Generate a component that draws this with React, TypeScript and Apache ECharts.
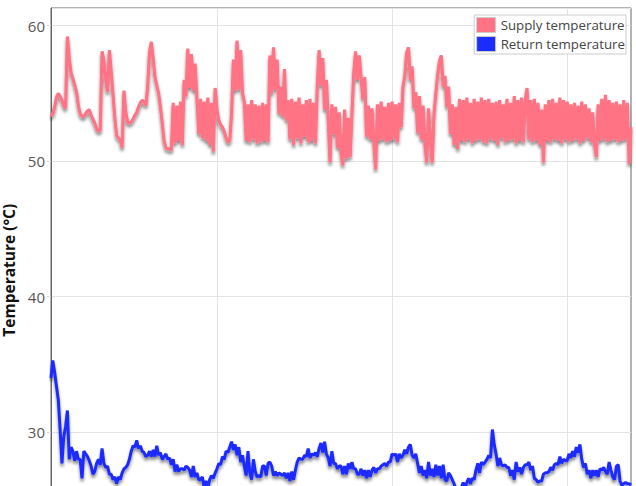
import React, { useEffect, useRef } from "react";
import * as echarts from "echarts";

// time axis in hours, one sample every 15 minutes
const START_HOUR = 1.2;
const STEP_HOURS = 0.25;
const END_HOUR = 80.7;
const dayLines = [24, 48, 72];

const Y_MIN = 22.6;
const Y_MAX = 61.3;

const seriesNames = ["Supply temperature", "Return temperature"];
const seriesColors = ["#ff7384", "#1b2cff"];

const supplyTemp = [
  53.3, 53.5, 54.0, 54.7, 55.0, 54.8, 54.5, 54.1, 53.9, 59.2,
  57.6, 56.5, 56.1, 55.6, 55.1, 54.1, 53.5, 53.3, 53.3, 53.5,
  53.7, 53.8, 53.4, 53.1, 52.8, 52.4, 52.2, 52.3, 58.1, 57.4,
  56.0, 55.1, 58.2, 56.6, 54.9, 53.2, 51.9, 51.7, 51.6, 51.0,
  55.2, 53.6, 52.9, 52.8, 52.9, 53.1, 53.4, 53.6, 54.0, 54.3,
  54.5, 54.4, 54.1, 55.5, 58.0, 58.8, 57.6, 56.2, 55.6, 55.0,
  54.0, 52.8, 51.5, 51.0, 50.9, 50.9, 50.8, 54.3, 51.3, 54.1,
  51.5, 54.4, 51.2, 56.0, 54.8, 58.3, 55.4, 57.9, 55.2, 57.2,
  54.7, 52.0, 54.6, 51.7, 54.4, 51.5, 54.7, 51.2, 54.3, 50.7,
  55.4, 53.8, 53.0, 52.7, 52.5, 52.2, 51.7, 51.4, 51.5, 53.5,
  57.5, 55.2, 58.9, 55.3, 58.2, 55.0, 54.4, 51.5, 54.2, 51.4,
  54.5, 51.6, 54.2, 51.3, 54.1, 51.4, 54.3, 51.5, 54.2, 51.4,
  57.8, 55.0, 58.4, 55.3, 57.5, 53.5, 55.5, 53.3, 56.8, 53.0,
  54.5, 51.6, 54.6, 51.2, 54.4, 51.7, 54.7, 51.3, 54.2, 51.8,
  54.5, 51.4, 54.6, 51.5, 54.3, 51.3, 55.5, 58.2, 55.6, 57.6,
  53.8, 56.0, 53.0, 49.9, 54.2, 52.0, 54.0, 51.0, 53.6, 50.6,
  49.7, 53.8, 50.2, 53.2, 50.3, 53.5, 56.5, 58.1, 56.0, 57.8,
  56.2, 54.6, 56.2, 51.8, 54.1, 51.6, 53.9, 51.4, 49.4, 54.2,
  51.5, 54.4, 51.6, 54.0, 51.4, 54.3, 51.5, 54.4, 51.6, 54.2,
  51.4, 54.3, 52.5, 55.5, 56.3, 58.0, 58.4, 56.0, 57.0, 53.9,
  55.1, 52.1, 54.8, 51.6, 54.1, 51.3, 49.9, 53.9, 51.6, 49.9,
  53.5, 55.0, 56.4, 57.4, 57.8, 55.5, 56.3, 54.0, 55.5, 52.0,
  54.2, 51.2, 54.0, 50.9, 54.6, 51.5, 54.5, 51.4, 54.7, 51.6,
  54.3, 51.3, 54.6, 51.5, 54.4, 51.6, 54.7, 51.4, 54.5, 51.3,
  54.6, 51.6, 54.3, 51.5, 54.4, 51.2, 54.5, 51.7, 54.2, 51.4,
  54.6, 51.5, 54.3, 51.6, 54.8, 51.3, 54.5, 51.5, 54.7, 51.4,
  54.4, 55.4, 51.6, 54.5, 51.4, 54.6, 51.5, 54.3, 51.2, 53.8,
  49.9, 54.2, 51.5, 54.5, 51.4, 54.6, 51.6, 54.3, 51.5, 54.7,
  51.3, 54.5, 51.6, 54.4, 51.4, 54.2, 51.5, 54.3, 51.6, 54.1,
  51.3, 54.4, 51.5, 54.2, 51.7, 53.9, 51.4, 53.6, 51.2, 50.3,
  54.2, 51.5, 54.6, 51.6, 54.9, 51.4, 54.5, 51.5, 54.3, 51.6,
  54.4, 51.4, 54.2, 51.5, 54.5, 51.6, 54.3, 49.8, 52.5,
];

const returnTemp = [
  34.0, 35.3, 34.4, 33.4, 32.4, 30.2, 27.7, 29.7, 30.4, 31.6,
  28.0, 28.9, 28.6, 27.9, 28.6, 28.0, 28.0, 26.6, 28.6, 28.4,
  28.2, 27.9, 27.5, 26.9, 27.1, 27.7, 28.0, 27.6, 28.8, 27.7,
  27.4, 27.5, 26.9, 26.9, 26.5, 26.7, 26.2, 26.7, 26.5, 27.0,
  27.3, 27.4, 27.6, 28.0, 28.6, 29.0, 28.9, 29.4, 28.8, 29.0,
  28.6, 28.5, 28.2, 28.3, 28.6, 28.2, 28.7, 28.2, 29.0, 28.3,
  28.5, 28.0, 28.2, 28.4, 28.0, 28.1, 27.6, 28.0, 27.1, 27.6,
  27.1, 27.3, 27.3, 27.2, 27.5, 27.4, 27.2, 26.7, 27.5, 26.7,
  27.0, 26.5, 26.5, 26.7, 25.9, 26.4, 25.9, 26.5, 26.8, 26.6,
  27.0, 27.3, 27.7, 27.6, 28.2, 28.0, 28.6, 28.5, 28.9, 29.3,
  28.7, 29.1, 28.3, 28.9, 27.8, 28.3, 27.5, 26.8, 28.6, 27.0,
  26.5, 28.0, 27.1, 26.7, 26.8, 26.7, 27.5, 27.5, 26.8, 27.7,
  27.8, 27.5, 26.8, 27.1, 26.8, 27.0, 26.9, 26.8, 27.0, 26.6,
  27.0, 26.4, 27.1, 26.5, 27.2, 27.8, 28.1, 28.0, 28.0, 28.3,
  28.2, 28.8, 28.1, 28.4, 28.3, 28.5, 28.2, 28.8, 29.2, 28.5,
  29.3, 28.4, 28.1, 27.5, 28.6, 27.7, 27.7, 27.3, 27.5, 27.5,
  26.9, 27.5, 26.9, 27.7, 27.3, 27.8, 27.3, 27.3, 26.9, 26.9,
  27.3, 26.8, 27.2, 26.6, 27.2, 26.7, 27.2, 27.4, 27.0, 27.3,
  27.3, 27.5, 27.6, 27.7, 27.5, 27.8, 27.8, 28.4, 28.3, 28.4,
  27.8, 28.4, 28.1, 28.3, 28.7, 28.4, 28.9, 29.1, 28.3, 28.1,
  28.4, 27.7, 27.0, 27.5, 26.8, 27.2, 26.6, 27.8, 26.8, 27.3,
  26.7, 27.6, 26.8, 27.5, 26.6, 27.6, 26.5, 26.4, 27.0, 26.8,
  26.5, 26.2, 25.8, 25.9, 25.6, 25.9, 26.3, 25.9, 26.3, 26.6,
  26.2, 26.6, 26.5, 27.2, 27.7, 27.0, 27.8, 27.6, 27.8, 28.0,
  28.3, 28.1, 30.2, 29.1, 28.4, 27.5, 28.1, 27.6, 27.5, 27.6,
  27.4, 27.4, 26.8, 27.2, 26.5, 27.8, 27.1, 27.4, 26.9, 27.4,
  27.6, 27.6, 27.8, 27.2, 27.5, 26.6, 26.5, 26.3, 26.4, 26.4,
  26.9, 27.0, 27.0, 27.1, 27.4, 27.2, 27.6, 27.7, 27.6, 28.2,
  27.7, 28.0, 27.9, 27.9, 28.4, 28.1, 28.6, 28.2, 28.9, 28.5,
  29.1, 28.0, 27.4, 27.7, 26.9, 27.2, 26.6, 27.2, 26.8, 27.2,
  26.7, 27.3, 27.2, 27.4, 27.1, 26.9, 27.8, 27.2, 26.7, 26.5,
  27.5, 27.6, 26.4, 26.1, 26.2, 26.3, 26.2, 26.2, 26.1,
];

const FONT = "'Open Sans', 'Noto Sans', sans-serif";

export default function App() {
  const ref = useRef<HTMLDivElement>(null);

  useEffect(() => {
    if (!ref.current) return;
    const chart = echarts.init(ref.current, null, { renderer: "svg" });
    const toPairs = (arr: number[]) =>
      arr.map((v, i) => [START_HOUR + i * STEP_HOURS, v]);

    const lineShadow = {
      shadowColor: "rgba(0,0,0,0.45)",
      shadowBlur: 3,
      shadowOffsetX: 0,
      shadowOffsetY: 3,
    };

    chart.setOption({
      animation: false,
      textStyle: { fontFamily: FONT },
      grid: {
        left: 51,
        top: 8,
        width: 580,
        height: 524.5,
        show: true,
        borderColor: "#666",
        borderWidth: 1,
        backgroundColor: "transparent",
        containLabel: false,
        outerBoundsMode: "none",
      },
      legend: {
        data: seriesNames,
        orient: "vertical",
        right: 10,
        top: 15,
        icon: "rect",
        itemWidth: 19,
        itemHeight: 15,
        itemGap: 3,
        padding: [2, 1, 2, 2],
        borderColor: "#ccc",
        borderWidth: 1,
        backgroundColor: "#fff",
        itemStyle: { borderColor: "#ccc", borderWidth: 1, shadowBlur: 0 },
        textStyle: { color: "#444", fontSize: 13.3, fontFamily: FONT },
      },
      xAxis: {
        type: "value",
        min: START_HOUR,
        max: END_HOUR,
        axisLine: { show: true, lineStyle: { color: "#666" } },
        axisLabel: { show: false },
        axisTick: { show: false },
        splitLine: { show: false },
      },
      yAxis: {
        type: "value",
        min: Y_MIN,
        max: Y_MAX,
        name: "Temperature (°C)",
        nameLocation: "middle",
        nameGap: 28,
        nameTextStyle: {
          fontSize: 15.5,
          fontWeight: "bold",
          color: "#111",
          fontFamily: FONT,
        },
        axisLine: { show: true, lineStyle: { color: "#666" } },
        axisTick: { show: true, length: 4, lineStyle: { color: "#ddd" } },
        axisLabel: {
          color: "#555",
          fontSize: 15,
          margin: 6,
          showMinLabel: false,
          showMaxLabel: false,
          fontFamily: FONT,
        },
        splitLine: { show: true, lineStyle: { color: "#e3e3e3", width: 1 } },
      },
      series: [
        {
          name: seriesNames[0],
          type: "line",
          data: toPairs(supplyTemp),
          symbol: "none",
          showSymbol: false,
          color: seriesColors[0],
          lineStyle: { color: seriesColors[0], width: 3.2, ...lineShadow },
          itemStyle: { color: seriesColors[0] },
          emphasis: { disabled: true },
          z: 3,
          markLine: {
            silent: true,
            symbol: ["none", "none"],
            label: { show: false },
            lineStyle: { color: "#e3e3e3", width: 1, type: "solid" },
            emphasis: { disabled: true },
            z: 1,
            data: dayLines.map((h) => ({ xAxis: h })),
          },
        },
        {
          name: seriesNames[1],
          type: "line",
          data: toPairs(returnTemp),
          symbol: "none",
          showSymbol: false,
          color: seriesColors[1],
          lineStyle: { color: seriesColors[1], width: 3, ...lineShadow },
          itemStyle: { color: seriesColors[1] },
          emphasis: { disabled: true },
          z: 3,
        },
      ],
    });

    return () => chart.dispose();
  }, []);

  return (
    <div
      ref={ref}
      style={{
        position: "absolute",
        left: 0,
        top: 0,
        width: 636,
        height: 486,
        overflow: "hidden",
      }}
    />
  );
}
